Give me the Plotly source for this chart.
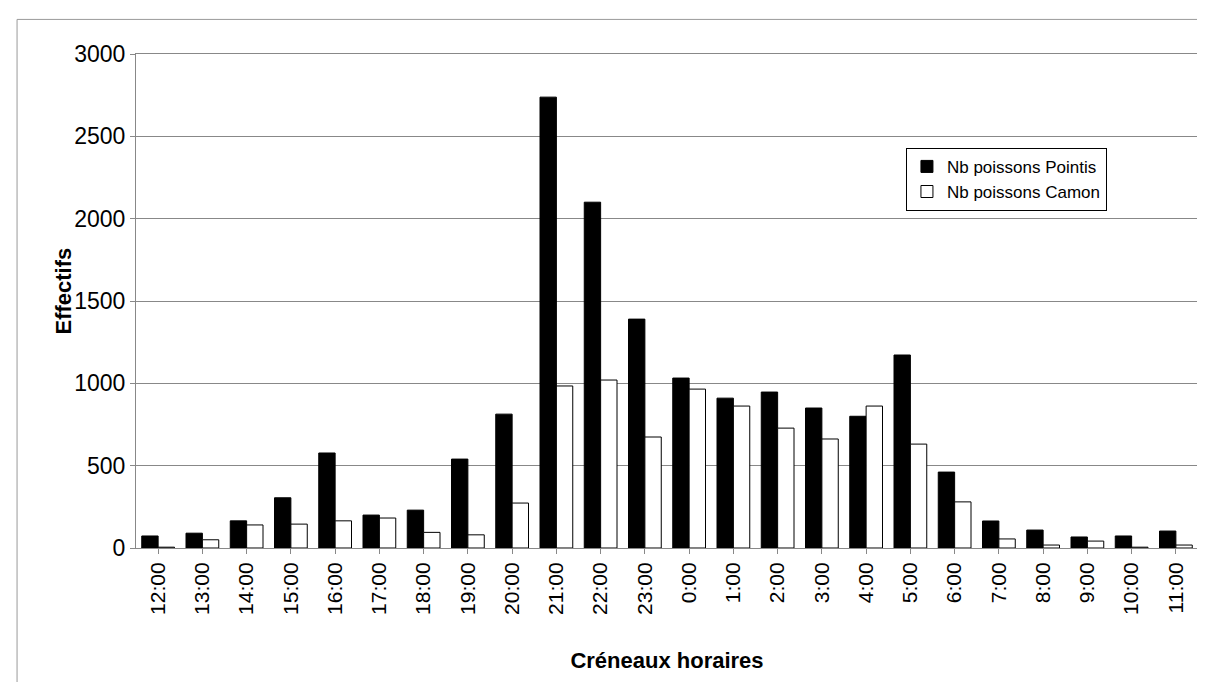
import plotly.graph_objects as go

creneaux = ["12:00", "13:00", "14:00", "15:00", "16:00", "17:00", "18:00", "19:00",
            "20:00", "21:00", "22:00", "23:00", "0:00", "1:00", "2:00", "3:00",
            "4:00", "5:00", "6:00", "7:00", "8:00", "9:00", "10:00", "11:00"]
pointis = [73, 90, 165, 305, 577, 200, 230, 540, 813, 2738, 2100, 1390,
           1032, 910, 947, 850, 800, 1172, 461, 164, 109, 67, 73, 103]
camon = [5, 50, 140, 145, 165, 182, 95, 80, 273, 984, 1020, 674,
         965, 862, 728, 662, 862, 631, 280, 55, 18, 42, 5, 18]

fig = go.Figure()
fig.add_bar(x=creneaux, y=pointis, name="Nb poissons Pointis",
            marker=dict(color="black", line=dict(color="black", width=1)))
fig.add_bar(x=creneaux, y=camon, name="Nb poissons Camon",
            marker=dict(color="white", line=dict(color="black", width=1)))

fig.update_layout(
    width=1205, height=682,
    paper_bgcolor="white", plot_bgcolor="white",
    font=dict(family="Liberation Sans, Arial", color="black"),
    margin=dict(l=128, r=15, t=46, b=142),
    barmode="group", bargap=0.26, bargroupgap=0.0,
    legend=dict(x=0.725, y=0.81, xanchor="left", yanchor="top",
                bordercolor="black", borderwidth=1, bgcolor="white",
                font=dict(size=17), tracegroupgap=22, itemwidth=30,
                entrywidth=230),
    shapes=[dict(type="rect", xref="paper", yref="paper", x0=-0.112, y0=-0.29,
                 x1=1.007, y1=1.07, line=dict(color="#999999", width=1))],
    annotations=[dict(text="<b>Effectifs</b>", xref="paper", yref="paper",
                      x=-0.082, y=0.52, textangle=-90, showarrow=False,
                      font=dict(size=22))],
)
fig.update_xaxes(tickangle=-90, tickfont=dict(size=21), showline=True,
                 linecolor="#888888", mirror=True, ticks="outside",
                 tickcolor="#888888",
                 title=dict(text="<b>Créneaux horaires</b>", font=dict(size=22),
                            standoff=38))
fig.update_yaxes(range=[0, 3000], dtick=500, tickfont=dict(size=23),
                 showgrid=True, gridcolor="#888888", showline=True,
                 linecolor="#888888", mirror=True, ticks="outside",
                 tickcolor="#888888", zeroline=False)

fig.write_html("out.html")
